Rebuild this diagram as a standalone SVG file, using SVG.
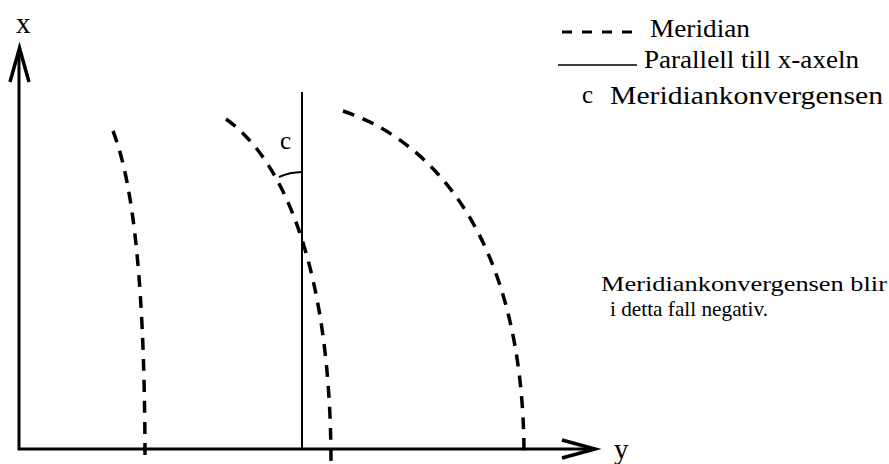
<svg xmlns="http://www.w3.org/2000/svg" width="889" height="464" viewBox="0 0 889 464">
<style>
.t{font-family:"Liberation Serif","Times New Roman",serif;fill:#000}
.mer{fill:none;stroke:#000;stroke-width:3.5;stroke-dasharray:12 9}
.ax{fill:none;stroke:#000;stroke-width:3}
.head{fill:none;stroke:#000;stroke-width:3.5;stroke-linejoin:miter;stroke-miterlimit:10}
.thin{fill:none;stroke:#000;stroke-width:2}
</style>
<rect width="889" height="464" fill="#fff"/>
<g id="axes">
<polyline class="ax" points="19,50 19,449 592,449"/>
<polyline class="head" points="10,82 19.5,48 29,82"/>
<polyline class="head" points="562,440 595,449 562,458"/>
<text class="t" x="16" y="33" font-size="29">x</text>
<text class="t" x="614" y="459" font-size="29">y</text>
</g>
<g id="connectors">
<path class="mer" d="M113,131 C128,170 145,250 145,464"/>
<path class="mer" d="M226,119 C284,160 331,270 331,464"/>
<path class="mer" d="M343,111 C430,140 524,235 524,456"/>
<line class="thin" x1="302" y1="92" x2="302" y2="449"/>
<path class="thin" d="M302,172 A60,60 0 0 0 279,177"/>
</g>
<g id="angle-label">
<text class="t" x="280" y="149" font-size="25">c</text>
</g>
<g id="legend">
<line x1="562" y1="32" x2="635" y2="32" stroke="#000" stroke-width="3" stroke-dasharray="10 10"/>
<text class="t" x="650" y="37" font-size="25" textLength="100" lengthAdjust="spacingAndGlyphs">Meridian</text>
<line x1="558" y1="65" x2="637" y2="65" stroke="#000" stroke-width="1.5"/>
<text class="t" x="644" y="68" font-size="25" textLength="215" lengthAdjust="spacingAndGlyphs">Parallell till x-axeln</text>
<text class="t" x="582" y="103" font-size="25">c</text>
<text class="t" x="610" y="104" font-size="25" textLength="273" lengthAdjust="spacingAndGlyphs">Meridiankonvergensen</text>
</g>
<g id="note">
<text class="t" x="601" y="291" font-size="22" textLength="286" lengthAdjust="spacingAndGlyphs">Meridiankonvergensen blir</text>
<text class="t" x="610" y="316" font-size="22" textLength="158" lengthAdjust="spacingAndGlyphs">i detta fall negativ.</text>
</g>
</svg>
